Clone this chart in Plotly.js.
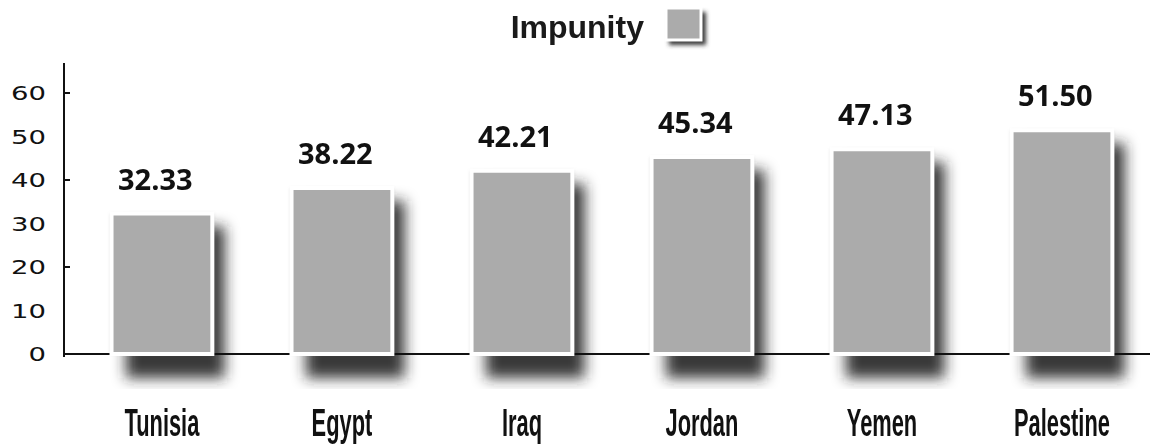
<!DOCTYPE html>
<html>
<head>
<meta charset="utf-8">
<script src="https://cdn.plot.ly/plotly-3.0.1.min.js"></script>
<style>
  html, body { margin: 0; padding: 0; background: #ffffff; }
  #chart { width: 1150px; height: 446px; }
</style>
</head>
<body>
<div id="chart"></div>
<script>
// ---- data ----
const countries = ["Tunisia", "Egypt", "Iraq", "Jordan", "Yemen", "Palestine"];
const impunity = [32.33, 38.22, 42.21, 45.34, 47.13, 51.50];
const yTickValues = [0, 10, 20, 30, 40, 50, 60];
const yMarkedTicks = [20, 40, 60];
const seriesName = "Impunity";

// ---- style ----
const barColor = "#ababab";
const shadowColor = "#222222";
const barWidth = 0.56;
const shadowBase = -5.5;    // shadow extends below the baseline
const shadowDrop = 3;       // shadow top sits a little below bar top

const shadowTrace = {
  type: "bar",
  x: countries,
  y: impunity.map(v => v - shadowDrop - shadowBase),
  base: countries.map(() => shadowBase),
  width: barWidth * 0.98,
  offset: -barWidth / 2 + 0.08,
  marker: { color: shadowColor, opacity: 0.9, line: { width: 0 } },
  hoverinfo: "skip",
  showlegend: false
};

const haloTrace = {
  type: "bar",
  x: countries,
  y: impunity,
  width: barWidth + 0.01,
  marker: { color: "#9a9a9a", opacity: 0.6, line: { width: 0 } },
  hoverinfo: "skip",
  showlegend: false
};

const barTrace = {
  type: "bar",
  name: seriesName,
  x: countries,
  y: impunity,
  width: barWidth,
  marker: { color: barColor, line: { color: "#ffffff", width: 4 } },
  showlegend: false
};

// invisible trace for the tick-mark axis
const tickTrace = {
  type: "scatter", x: [countries[0]], y: [0], yaxis: "y2",
  mode: "markers", marker: { opacity: 0 }, hoverinfo: "skip", showlegend: false
};

const yRange = [-8.06, 67];

const annotations = countries.map((c, i) => ({
  x: c, y: impunity[i], xref: "x", yref: "y",
  text: impunity[i].toFixed(2),
  showarrow: false, yanchor: "bottom", xanchor: "center",
  yshift: 14, xshift: -6,
  font: { family: "Open Sans", size: 29, color: "#111111", weight: 700 }
}));

const layout = {
  width: 1150, height: 446,
  margin: { l: 64, r: 0, t: 63, b: 57 },
  paper_bgcolor: "#ffffff", plot_bgcolor: "#ffffff",
  barmode: "overlay",
  title: {
    text: "<b>" + seriesName + "</b>",
    font: { family: "Liberation Sans", size: 32, color: "#1a1a1a" },
    x: 0.502, xanchor: "center", xref: "container",
    y: 1 - 27 / 446, yanchor: "middle", yref: "container"
  },
  xaxis: {
    type: "category",
    range: [-0.544, 5.489],
    showline: false, showgrid: false, zeroline: false,
    ticks: "", ticklabelstandoff: 7,
    tickfont: { family: "Liberation Sans Narrow, Liberation Sans", size: 39, color: "#111111", weight: 700 }
  },
  yaxis: {
    range: yRange,
    tickvals: yTickValues,
    ticktext: yTickValues.map(String),
    showline: false, showgrid: false, zeroline: false,
    ticks: "", ticklabelstandoff: 17,
    tickfont: { family: "DejaVu Sans", size: 20, color: "#111111" }
  },
  yaxis2: {
    overlaying: "y", side: "left",
    range: yRange,
    tickvals: yMarkedTicks,
    showticklabels: false,
    ticks: "inside", ticklen: 6, tickwidth: 2, tickcolor: "#111111",
    showline: false, showgrid: false, zeroline: false
  },
  shapes: [
    // y axis line
    { type: "line", xref: "paper", yref: "y", x0: 0, x1: 0, y0: -0.7, y1: yRange[1],
      line: { color: "#111111", width: 2 }, layer: "above" },
    // baseline
    { type: "line", xref: "paper", yref: "y", x0: -7 / 1086, x1: 1, y0: 0, y1: 0,
      line: { color: "#111111", width: 2 }, layer: "above" },
    // legend swatch shadow
    { type: "rect", xref: "paper", yref: "paper",
      x0: (669 - 64) / 1086, x1: (706 - 64) / 1086,
      y0: (389 - 45) / 326, y1: (389 - 12) / 326,
      fillcolor: "#3a3a3a", line: { width: 0 }, layer: "above" },
    // legend swatch
    { type: "rect", xref: "paper", yref: "paper",
      x0: (666 - 64) / 1086, x1: (701 - 64) / 1086,
      y0: (389 - 40) / 326, y1: (389 - 8) / 326,
      fillcolor: barColor, line: { color: "#ffffff", width: 3 }, layer: "above" }
  ],
  annotations: annotations,
  showlegend: false
};

function scaleTextX(el, s) {
  const x = parseFloat(el.getAttribute("x") || "0");
  const t = el.getAttribute("transform") || "";
  el.setAttribute("transform", t + " translate(" + x + ",0) scale(" + s + ",1) translate(" + (-x) + ",0)");
}

function moveKeepingPosition(el, newParent, beforeNode) {
  const m = el.getCTM();
  newParent.insertBefore(el, beforeNode || null);
  const pm = newParent.getCTM();
  const r = pm.inverse().multiply(m);
  el.setAttribute("transform", "matrix(" + [r.a, r.b, r.c, r.d, r.e, r.f].join(",") + ")");
}

Plotly.newPlot("chart", [shadowTrace, haloTrace, barTrace, tickTrace], layout, { staticPlot: true }).then(gd => {
  const svg = gd.querySelector(".main-svg");
  const ns = "http://www.w3.org/2000/svg";
  const defs = document.createElementNS(ns, "defs");
  function addBlur(id, sd) {
    const f = document.createElementNS(ns, "filter");
    f.setAttribute("id", id);
    f.setAttribute("x", "-30%"); f.setAttribute("y", "-30%");
    f.setAttribute("width", "160%"); f.setAttribute("height", "160%");
    const b = document.createElementNS(ns, "feGaussianBlur");
    b.setAttribute("stdDeviation", String(sd));
    f.appendChild(b); defs.appendChild(f);
  }
  addBlur("shblur", 7);
  addBlur("haloblur", 1.5);
  addBlur("shblur2", 2);
  svg.insertBefore(defs, svg.firstChild);

  const traces = gd.querySelectorAll(".barlayer .trace");
  if (traces.length > 2) {
    traces[0].setAttribute("filter", "url(#shblur)");
    traces[1].setAttribute("filter", "url(#haloblur)");
  }

  const shp = gd.querySelectorAll(".layer-above .shapelayer path");
  if (shp.length > 3) {
    shp[2].setAttribute("filter", "url(#shblur2)");
    // baseline goes between shadow and bars, as in the reference
    if (traces.length > 2) {
      try { moveKeepingPosition(shp[1], traces[2].parentNode, traces[1]); } catch (e) {}
    }
  }

  // condensed x labels: target width of "Tunisia" ~75px
  const xt = gd.querySelectorAll(".xtick text");
  if (xt.length) {
    const w = xt[0].getBBox().width;
    const s = w > 0 ? 75 / w : 0.6;
    xt.forEach(el => scaleTextX(el, s));
  }
  // wide y labels: target width of "60" ~35px
  const yt = gd.querySelectorAll(".ytick text");
  let ys = 1.4;
  yt.forEach(el => { if (el.textContent === "60") { const w = el.getBBox().width; if (w > 0) ys = 35 / w; } });
  yt.forEach(e => scaleTextX(e, ys));
});
</script>
</body>
</html>
